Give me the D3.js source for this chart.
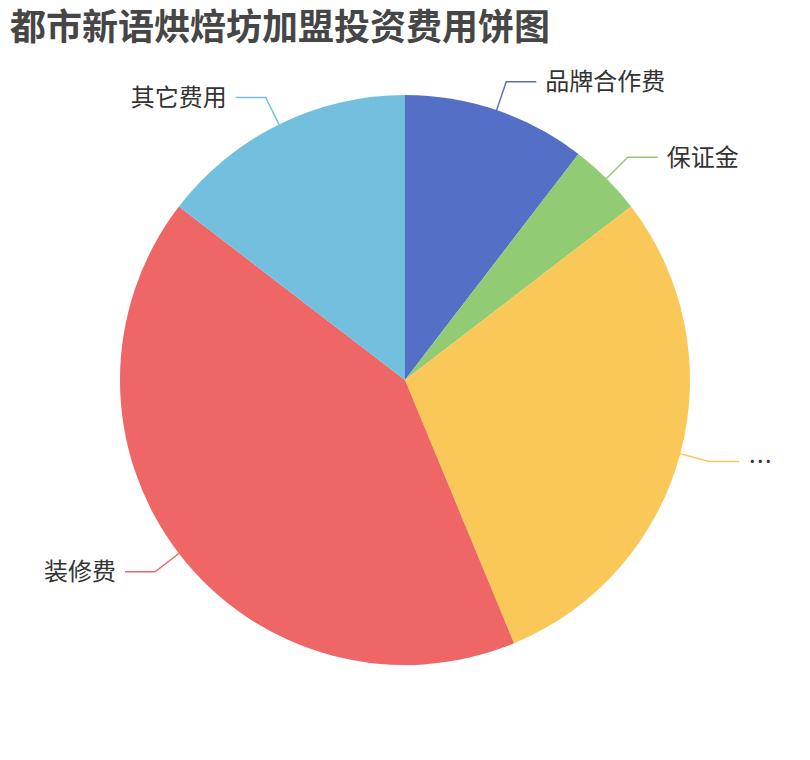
<!DOCTYPE html>
<html lang="zh">
<head>
<meta charset="utf-8">
<title>都市新语烘焙坊加盟投资费用饼图</title>
<style type="text/css">
    body { margin: 0; background: #fff; }
    svg text { font-family: "Noto Sans CJK SC", "Noto Sans", sans-serif; }
</style>
</head>
<body>
<script src="https://cdn.jsdelivr.net/npm/d3@7/dist/d3.min.js"></script>
<script>

    var categories = ["品牌合作费", "保证金", "…", "装修费", "其它费用"];
    var values = [5, 2, 14, 20, 7];
    var colors = ["#5470c6", "#91cc75", "#fac858", "#ee6666", "#73c0de"];

    var w = 810;
    var h = 760;
    var cx = 405, cy = 380, r = 285;
    var len1 = 30, len2 = 30, gap = 9;

    var svg = d3.select("body")
            .append("svg")
            .attr("width", w)
            .attr("height", h);

    svg.append("text")
        .attr("x", 10)
        .attr("y", 40)
        .attr("font-size", 36)
        .attr("font-weight", "bold")
        .attr("fill", "#464646")
        .text("都市新语烘焙坊加盟投资费用饼图");

    var data = categories.map(function(c, i) {
        return { name: c, value: values[i], color: colors[i] };
    });

    var pie = d3.pie()
        .sort(null)
        .value(function(d) { return d.value; });

    var arc = d3.arc()
        .innerRadius(0)
        .outerRadius(r);

    var arcs = pie(data);

    var g = svg.append("g")
        .attr("transform", "translate(" + cx + "," + cy + ")");

    g.selectAll("path.slice")
        .data(arcs)
        .enter()
        .append("path")
        .attr("class", "slice")
        .attr("d", arc)
        .attr("fill", function(d) { return d.data.color; });

    // label lines: radial segment then horizontal segment
    function pts(d) {
        var a = (d.startAngle + d.endAngle) / 2;
        var sx = Math.sin(a), sy = -Math.cos(a);
        var p0 = [sx * r, sy * r];
        var p1 = [sx * (r + len1), sy * (r + len1)];
        var dir = sx >= 0 ? 1 : -1;
        var p2 = [p1[0] + dir * len2, p1[1]];
        return { p: [p0, p1, p2], dir: dir };
    }

    g.selectAll("polyline")
        .data(arcs)
        .enter()
        .append("polyline")
        .attr("points", function(d) { return pts(d).p.map(function(q) { return q.join(","); }).join(" "); })
        .attr("fill", "none")
        .attr("stroke", function(d) { return d.data.color; })
        .attr("stroke-width", 1.5);

    g.selectAll("text.label")
        .data(arcs)
        .enter()
        .append("text")
        .attr("class", "label")
        .attr("x", function(d) { var o = pts(d); return o.p[2][0] + o.dir * gap; })
        .attr("y", function(d) { return pts(d).p[2][1]; })
        .attr("dy", "0.35em")
        .attr("text-anchor", function(d) { return pts(d).dir > 0 ? "start" : "end"; })
        .attr("font-size", 24)
        .attr("fill", "#333")
        .text(function(d) { return d.data.name; });

</script>
</body>
</html>
